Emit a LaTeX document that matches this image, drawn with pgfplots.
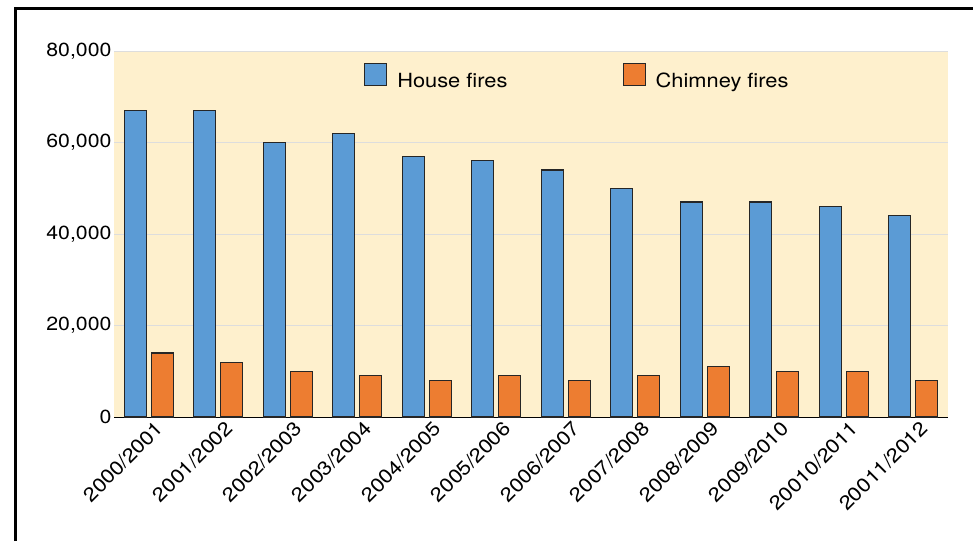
\documentclass[border=0pt]{standalone}
\usepackage{fontspec}
\setmainfont[FakeStretch=1.12]{TeX Gyre Heros}
\usepackage{pgfplots}
\pgfplotsset{compat=1.18}
\definecolor{houseblue}{HTML}{5B9BD5}
\definecolor{chimorange}{HTML}{ED7D31}
\definecolor{plotbg}{HTML}{FEF0CD}
\definecolor{gridgray}{HTML}{DDDDDD}
\begin{document}
\begin{tikzpicture}[x=1pt,y=1pt]
\path[use as bounding box] (0,0) rectangle (973,541);
\draw[line width=3pt] (15,0) -- (15,532.5) -- (973,532.5);
\begin{axis}[
  at={(114pt,124pt)}, anchor=south west,
  scale only axis, width=834pt, height=366pt,
  xmin=-0.5, xmax=11.5, ymin=0, ymax=80000,
  ybar=5pt, bar width=22pt,
  axis background/.style={fill=plotbg},
  ymajorgrids, grid style={gridgray, line width=0.8pt},
  axis lines*=left,
  y axis line style={draw=none},
  x axis line style={black, line width=1pt, -},
  major tick length=0pt,
  xtick={0,...,11},
  xticklabels={2000/2001,2001/2002,2002/2003,2003/2004,2004/2005,2005/2006,2006/2007,2007/2008,2008/2009,2009/2010,20010/2011,20011/2012},
  ytick={0,20000,40000,60000,80000},
  scaled y ticks=false,
  /pgf/number format/.cd, 1000 sep={,}, assume math mode=true, /pgfplots/.cd,
  yticklabel style={font=\fontsize{19}{21}\selectfont, xshift=1pt},
  xticklabel style={rotate=45, anchor=north east, font=\fontsize{19.5}{21}\selectfont, inner sep=2pt, xshift=4pt, yshift=-4pt},
  legend style={at={(0.296,0.929)}, anchor=west, draw=none, fill=none,
    font=\fontsize{19.5}{21}\selectfont, legend columns=2,
    /tikz/every odd column/.append style={column sep=8pt},
    /tikz/every even column/.append style={column sep=113pt}},
  legend image code/.code={\draw[#1] (0pt,-5pt) rectangle (22pt,17pt);},
  every axis plot/.append style={draw=black!85, line width=1.2pt},
]
\addplot[fill=houseblue] coordinates {(0,67000) (1,67000) (2,60000) (3,62000) (4,57000) (5,56000) (6,54000) (7,50000) (8,47000) (9,47000) (10,46000) (11,44000)};
\addplot[fill=chimorange] coordinates {(0,14000) (1,12000) (2,10000) (3,9000) (4,8000) (5,9000) (6,8000) (7,9000) (8,11000) (9,10000) (10,10000) (11,8000)};
\legend{House fires, Chimney fires}
\end{axis}
\end{tikzpicture}
\end{document}
